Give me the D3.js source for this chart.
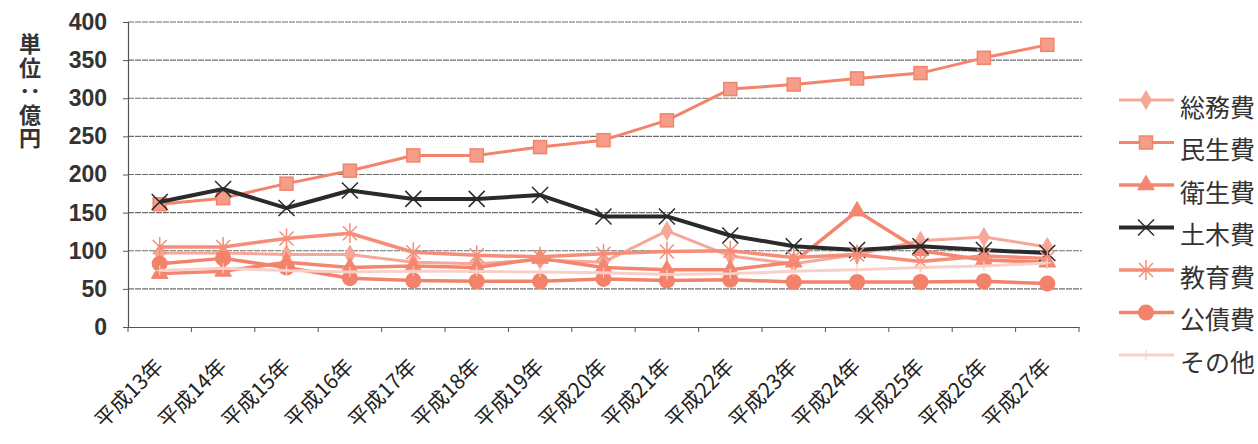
<!DOCTYPE html>
<html><head><meta charset="utf-8">
<script src="https://cdn.jsdelivr.net/npm/d3@7/dist/d3.min.js"></script>
<style>
html,body{margin:0;padding:0;background:#fff;}
svg{display:block;}
</style></head>
<body>
<svg id="chart" width="1258" height="444"></svg>
<script>
const categories = ["平成13年","平成14年","平成15年","平成16年","平成17年","平成18年","平成19年","平成20年","平成21年","平成22年","平成23年","平成24年","平成25年","平成26年","平成27年"];
const seriesNames = ["総務費","民生費","衛生費","土木費","教育費","公債費","その他"];
const somu   = [97, 97, 95, 95, 85, 83, 88, 85, 126, 93, 83, 95, 113, 118, 105];
const minsei = [161, 169, 188, 205, 225, 225, 236, 245, 271, 312, 318, 326, 333, 353, 370];
const eisei  = [70, 73, 85, 78, 80, 78, 90, 78, 75, 75, 85, 152, 100, 88, 85];
const doboku = [164, 181, 156, 179, 168, 168, 173, 145, 145, 120, 106, 101, 106, 101, 97];
const kyoiku = [105, 105, 116, 123, 98, 94, 92, 96, 99, 100, 91, 95, 86, 93, 90];
const kosai  = [83, 90, 78, 64, 61, 60, 60, 63, 61, 62, 59, 59, 59, 60, 57];
const sonota = [74, 77, 74, 72, 73, 73, 72, 71, 69, 70, 73, 75, 78, 80, 84];
const yTicks = [0, 50, 100, 150, 200, 250, 300, 350, 400];
const yUnit = "単位：億円";

const seriesValues = [somu, minsei, eisei, doboku, kyoiku, kosai, sonota];
const styles = [
  {color:"#f6a898", width:3, marker:"diamond"},
  {color:"#f2846d", width:3, marker:"square"},
  {color:"#f4866f", width:3.5, marker:"triangle"},
  {color:"#2a2a2a", width:4, marker:"x"},
  {color:"#f58d78", width:3.5, marker:"asterisk"},
  {color:"#f3826a", width:3.5, marker:"circle"},
  {color:"#f8d0c8", width:3, marker:"plus"}
];

(function(){
const svg = d3.select("#chart");
const pLeft = 128, pRight = 1079, pTop = 22, pBottom = 327;
const x = d3.scaleBand().domain(categories).range([pLeft, pRight]);
const y = d3.scaleLinear().domain([0, 400]).range([pBottom, pTop]);
const cx = c => x(c) + x.bandwidth()/2;

// gridlines
svg.append("g").selectAll("line").data(yTicks.filter(d=>d>0)).join("line")
  .attr("x1", pLeft).attr("x2", pRight+3)
  .attr("y1", d=>y(d)).attr("y2", d=>y(d))
  .attr("stroke", "#6d6d6d").attr("stroke-width", 1.2).attr("stroke-dasharray","6,1");

// y axis
const yAxis = d3.axisLeft(y).tickValues(yTicks).tickSize(5).tickPadding(16);
const gy = svg.append("g").attr("transform", `translate(${pLeft},0)`).call(yAxis);
gy.select(".domain").attr("stroke","#555").attr("stroke-width",1.2);
gy.selectAll(".tick line").attr("stroke","#555");
gy.selectAll(".tick text").attr("font-family","'Liberation Sans', Arial, sans-serif")
  .attr("font-size", 23).attr("font-weight","bold").attr("fill","#333");

// x axis
const xAxis = d3.axisBottom(x).tickSize(0).tickFormat("");
const gx = svg.append("g").attr("transform", `translate(0,${pBottom})`).call(xAxis);
gx.select(".domain").attr("stroke","#555").attr("stroke-width",1.2);
svg.append("g").selectAll("line").data(categories.concat(["__end"])).join("line")
  .attr("x1", (d,i)=> pLeft + i*x.step()).attr("x2", (d,i)=> pLeft + i*x.step())
  .attr("y1", pBottom).attr("y2", pBottom+5).attr("stroke","#555");

// x labels
svg.append("g").selectAll("text").data(categories).join("text")
  .attr("transform", d=>`translate(${cx(d)+5},${pBottom+41}) rotate(-45)`)
  .attr("text-anchor","end")
  .attr("font-family","'Noto Sans CJK JP', sans-serif")
  .attr("font-size", 21).attr("fill","#222")
  .text(d=>d);

// unit label vertical
svg.append("text")
  .attr("x", 30).attr("y", 33)
  .attr("writing-mode","vertical-rl")
  .attr("letter-spacing", 1.5)
  .attr("font-family","'Noto Sans CJK JP', sans-serif")
  .attr("font-size", 22).attr("font-weight","bold").attr("fill","#333")
  .text(yUnit);

function drawMarker(g, type, color, px, py) {
  if (type === "diamond") {
    g.append("path").attr("d", d3.symbol(d3.symbolDiamond, 100)())
      .attr("transform",`translate(${px},${py})`).attr("fill",color).attr("stroke",color);
  } else if (type === "square") {
    g.append("rect").attr("x",px-6.5).attr("y",py-6.5).attr("width",13).attr("height",13)
      .attr("fill","#f59d88").attr("stroke",color).attr("stroke-width",1.5);
  } else if (type === "triangle") {
    g.append("path").attr("d", d3.symbol(d3.symbolTriangle, 120)())
      .attr("transform",`translate(${px},${py})`).attr("fill",color).attr("stroke",color);
  } else if (type === "x") {
    g.append("path").attr("d",`M${px-8},${py-8}L${px+8},${py+8}M${px-8},${py+8}L${px+8},${py-8}`)
      .attr("stroke",color).attr("stroke-width",1.5).attr("fill","none");
  } else if (type === "asterisk") {
    g.append("path").attr("d",`M${px-7},${py-7}L${px+7},${py+7}M${px-7},${py+7}L${px+7},${py-7}M${px},${py-10}L${px},${py+10}`)
      .attr("stroke",color).attr("stroke-width",1.5).attr("fill","none");
  } else if (type === "circle") {
    g.append("circle").attr("cx",px).attr("cy",py).attr("r",8).attr("fill",color);
  } else if (type === "plus") {
    g.append("path").attr("d",`M${px-4},${py}L${px+4},${py}M${px},${py-5}L${px},${py+5}`)
      .attr("stroke",color).attr("stroke-width",1.2).attr("fill","none");
  }
}

// series
const line = d3.line().x((d,i)=>cx(categories[i])).y(d=>y(d));
seriesValues.forEach((vals, si) => {
  const st = styles[si];
  const g = svg.append("g");
  g.append("path").datum(vals).attr("d", line)
    .attr("fill","none").attr("stroke", st.color).attr("stroke-width", st.width)
    .attr("stroke-linejoin","round");
  vals.forEach((v,i) => drawMarker(g, st.marker, st.color, cx(categories[i]), y(v)));
});

// legend
const legY0 = 100, legStep = 42.5;
seriesNames.forEach((name, si) => {
  const st = styles[si];
  const ly = legY0 + si*legStep;
  const g = svg.append("g");
  g.append("line").attr("x1",1119).attr("x2",1174).attr("y1",ly).attr("y2",ly)
    .attr("stroke",st.color).attr("stroke-width",st.width);
  drawMarker(g, st.marker, st.color, 1146, ly);
  g.append("text").attr("x",1180).attr("y",ly+10).attr("dominant-baseline","middle")
    .attr("font-family","'Noto Sans CJK JP', sans-serif").attr("font-size",25).attr("fill","#333")
    .text(name);
});
})();
</script>
</body></html>
